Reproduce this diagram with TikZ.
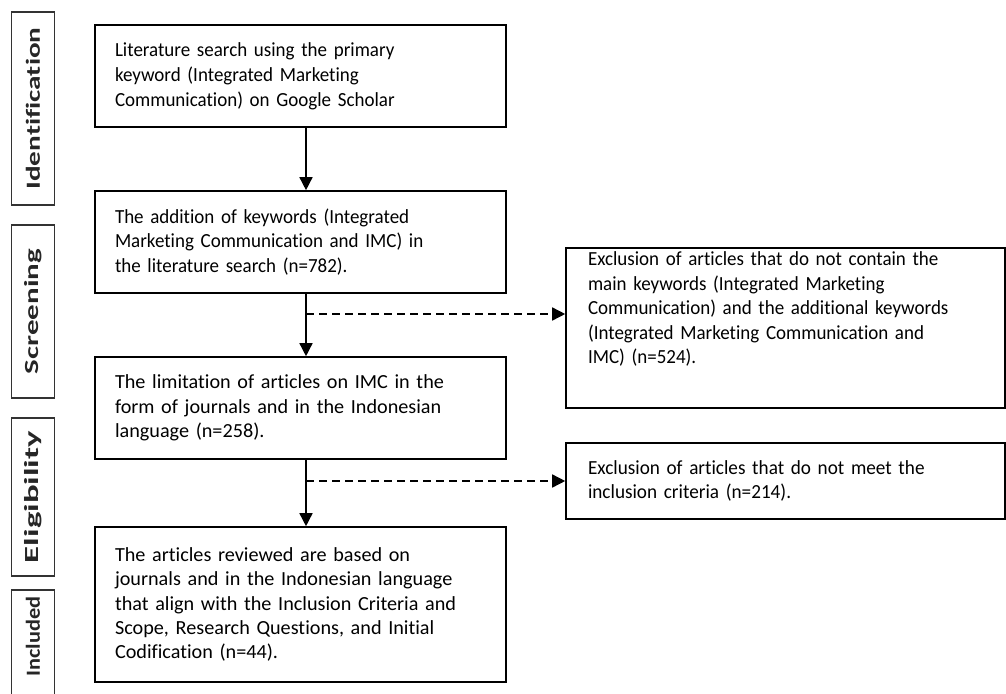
\documentclass[tikz,border=0pt]{standalone}
\usepackage{fontspec}
\usepackage{graphicx}
\setmainfont{Carlito}[Ligatures=NoCommon]
\newfontfamily\fB{Carlito}[FakeStretch=0.95,Ligatures=NoCommon]
\newfontfamily\fC{Carlito}[FakeStretch=1.01,Ligatures=NoCommon]
\newfontfamily\fE{Carlito}[FakeStretch=0.96,Ligatures=NoCommon]
\usetikzlibrary{arrows.meta,calc}
\newcommand{\phtext}[2]{\resizebox{#1}{\height}{#2}}
\begin{document}
\begin{tikzpicture}[x=1pt,y=-1pt,
  box/.style={draw=black,line width=1.6pt,rectangle,inner xsep=20pt,inner ysep=0pt,
    align=left,text width=371pt,minimum height=#1},
  exbox/.style={draw=black,line width=1.6pt,rectangle,inner xsep=22pt,inner ysep=0pt,
    align=left,text width=395pt,minimum height=#1},
  phase/.style={draw=black!80,line width=1.3pt,rectangle,rotate=90,inner sep=0pt,
    minimum width=#1,minimum height=43pt,text=black!85,
    font=\bfseries\fontsize{20}{24}\selectfont},
  flow/.style={line width=1.5pt,-{Triangle[length=13pt,width=13pt]}},
  dflow/.style={line width=1.5pt,dash pattern=on 8pt off 5pt,-{Triangle[length=13pt,width=13pt]}}
]
\useasboundingbox (0,0) rectangle (1006,693);
% phase labels
\node[phase=193pt] (pid) at (33,108.5) {\phtext{162pt}{Identification}};
\node[phase=173pt] (psc) at (33,311.5) {\phtext{125pt}{Screening}};
\node[phase=158pt] (pel) at (33,497) {\phtext{132pt}{Eligibility}};
\node[phase=130pt] (pin) at (33,655) {\hspace{37pt}\phtext{80pt}{Included}};
% main boxes
\node[box=102pt,font=\fB\fontsize{20}{25}\selectfont] (b1) at (300.5,76) {Literature search using the primary\\keyword (Integrated Marketing\\Communication) on Google Scholar};
\node[box=102pt,font=\fB\fontsize{20}{24.6}\selectfont] (b2) at (300.5,242) {The addition of keywords (Integrated\\Marketing Communication and IMC) in\\the literature search (n=782).};
\node[box=102pt,font=\fC\fontsize{20}{24.6}\selectfont] (b3) at (300.5,408) {The limitation of articles on IMC in the\\form of journals and in the Indonesian\\language (n=258).};
\node[box=155pt,font=\fC\fontsize{20}{24.2}\selectfont] (b4) at (300.5,604.5) {The articles reviewed are based on\\journals and in the Indonesian language\\that align with the Inclusion Criteria and\\Scope, Research Questions, and Initial\\Codification (n=44).};
% exclusion boxes
\node[exbox=160pt,font=\fB\fontsize{20}{24.4}\selectfont] (e1) at (785.5,328) {\parbox[c][152pt][t]{395pt}{\vspace{0pt}Exclusion of articles that do not contain the\\main keywords (Integrated Marketing\\Communication) and the additional keywords\\(Integrated Marketing Communication and\\IMC) (n=524).}};
\node[exbox=76pt,font=\fE\fontsize{20}{24.4}\selectfont] (e2) at (785.5,481) {Exclusion of articles that do not meet the\\inclusion criteria (n=214).};
% spine coordinates
\coordinate (s) at (306,0);
\coordinate (d1) at (306,314);
\coordinate (d2) at (306,481);
% arrows
\draw[flow] (b1.south -| s) -- (b2.north -| s);
\draw[flow] (b2.south -| s) -- (b3.north -| s);
\draw[flow] (b3.south -| s) -- (b4.north -| s);
\draw[dflow] (d1) -- (d1 -| e1.west);
\draw[dflow] (d2) -- (d2 -| e2.west);
\end{tikzpicture}
\end{document}
